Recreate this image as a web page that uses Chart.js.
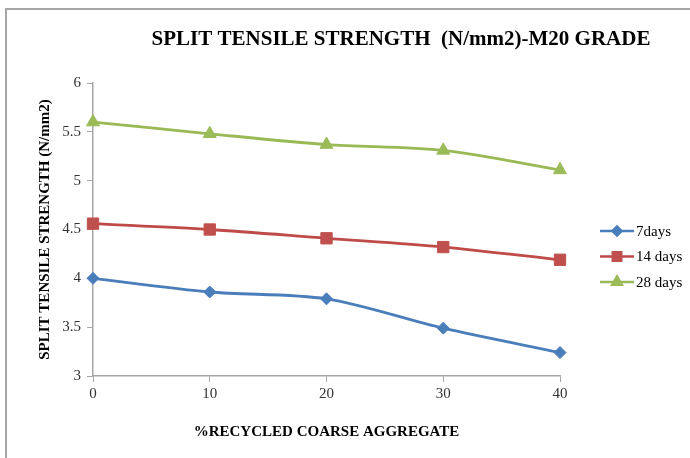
<!DOCTYPE html>
<html lang="en">
<head>
    <meta charset="UTF-8">
    <title>Split Tensile Strength - M20 Grade</title>
    <script src="https://cdn.jsdelivr.net/npm/chart.js"></script>
    <style>
        html, body { margin: 0; padding: 0; background: #fff; }
        #frame {
            position: absolute; left: 5px; top: 8px;
            width: 720px; height: 520px;
            border: 2px solid #a6a6a6;
        }
        #chart { position: absolute; left: 0; top: 0; }
    </style>
    <script>
        // data
        const recycledPct = [0, 10, 20, 30, 40];
        const days7 = [4.00, 3.86, 3.79, 3.49, 3.24];
        const days14 = [4.56, 4.50, 4.41, 4.32, 4.19];
        const days28 = [5.60, 5.48, 5.37, 5.31, 5.11];
        const seriesNames = ["7days", "14 days", "28 days"];
        const chartTitle = "SPLIT TENSILE STRENGTH  (N/mm2)-M20 GRADE";
        const xTitle = "%RECYCLED COARSE AGGREGATE";
        const yTitle = "SPLIT TENSILE STRENGTH (N/mm2)";
        const yRange = [3, 6];
        const xRange = [0, 40];
    </script>
</head>
<body>
    <div id="frame"></div>
    <canvas id="chart" width="690" height="458"></canvas>

    <script>
        var serif = "'Liberation Serif', 'Times New Roman', serif";

        function toPoints(values) {
            return values.map(function (v, i) { return { x: recycledPct[i], y: v }; });
        }

        var series = [
            { name: seriesNames[0], values: days7, line: "#4A7EBB", fill: "#4A7EBB", style: "rectRot", radius: 6 },
            { name: seriesNames[1], values: days14, line: "#BE4B48", fill: "#C0504D", style: "rect", radius: 8 },
            { name: seriesNames[2], values: days28, line: "#98B954", fill: "#9BBB59", style: "triangle", radius: 7.5 },
        ];

        // title + excel style legend (line with marker), drawn on the canvas
        var extras = {
            id: "extras",
            afterDraw: function (chart) {
                var ctx = chart.ctx;
                ctx.save();
                ctx.fillStyle = "#000";
                ctx.font = "bold 21px " + serif;
                ctx.textAlign = "center";
                ctx.textBaseline = "middle";
                ctx.fillText(chartTitle, 401, 40);

                ctx.font = "15px " + serif;
                ctx.textAlign = "left";
                chart.data.datasets.forEach(function (ds, i) {
                    var y = 231 + i * 25.5;
                    ctx.strokeStyle = ds.borderColor;
                    ctx.lineWidth = 2.5;
                    ctx.beginPath();
                    ctx.moveTo(600, y);
                    ctx.lineTo(634, y);
                    ctx.stroke();
                    ctx.fillStyle = ds.pointBackgroundColor;
                    ctx.strokeStyle = ds.pointBorderColor;
                    Chart.helpers.drawPoint(ctx, {
                        pointStyle: ds.pointStyle,
                        radius: ds.pointRadius * 0.75,
                        rotation: 0,
                        borderWidth: 1
                    }, 617, y);
                    ctx.fillStyle = "#000";
                    ctx.fillText(ds.label, 636, y + 1);
                });
                ctx.restore();
            }
        };

        new Chart(document.getElementById("chart"), {
            type: "line",
            data: {
                datasets: series.map(function (s) {
                    return {
                        label: s.name,
                        data: toPoints(s.values),
                        borderColor: s.line,
                        borderWidth: 2.8,
                        tension: 0.3,
                        fill: false,
                        clip: false,
                        pointStyle: s.style,
                        pointRadius: s.radius,
                        pointBackgroundColor: s.fill,
                        pointBorderColor: s.fill,
                        pointBorderWidth: 1,
                    };
                })
            },
            options: {
                responsive: false,
                animation: false,
                devicePixelRatio: 1,
                layout: { padding: { left: 30, top: 83, right: 130, bottom: 0 } },
                plugins: {
                    legend: { display: false },
                    title: { display: false },
                    tooltip: { enabled: false },
                },
                scales: {
                    x: {
                        type: "linear",
                        min: xRange[0],
                        max: xRange[1],
                        afterFit: function (scale) { scale.height = 82; },
                        ticks: {
                            stepSize: 10,
                            padding: 3,
                            color: "#333",
                            font: { family: serif, size: 15 },
                        },
                        grid: {
                            drawOnChartArea: false,
                            tickLength: 6,
                            color: "#a6a6a6",
                        },
                        border: { color: "#a6a6a6", width: 1.5 },
                        title: {
                            display: true,
                            text: xTitle,
                            color: "#000",
                            font: { family: serif, size: 15, weight: "bold" },
                            padding: { top: 0, bottom: 17 },
                        },
                    },
                    y: {
                        min: yRange[0],
                        max: yRange[1],
                        afterFit: function (scale) { scale.width = 63; },
                        ticks: {
                            stepSize: 0.5,
                            padding: 6,
                            color: "#333",
                            font: { family: serif, size: 15 },
                            callback: function (v) { return String(v); },
                        },
                        grid: {
                            drawOnChartArea: false,
                            tickLength: 6,
                            color: "#a6a6a6",
                        },
                        border: { color: "#a6a6a6", width: 1.5 },
                        title: {
                            display: true,
                            text: yTitle,
                            color: "#000",
                            font: { family: serif, size: 15, weight: "bold" },
                            padding: { top: 6, bottom: 0 },
                        },
                    },
                },
            },
            plugins: [extras],
        });
    </script>
</body>
</html>
